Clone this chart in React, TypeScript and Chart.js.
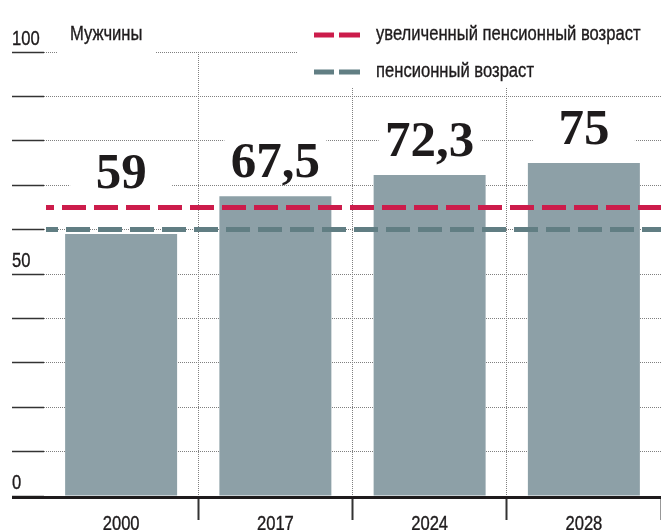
import React, { useEffect, useRef } from 'react';
import { Chart, registerables } from 'chart.js';

Chart.register(...registerables);

const categories = ['2000', '2017', '2024', '2028'];
const menValues = [59, 67.5, 72.3, 75];
const pensionAge = 60;
const raisedPensionAge = 65;
const yLabelValues = [0, 50, 100];
const chartTitle = 'Мужчины';
const legendNames = ['увеличенный пенсионный возраст', 'пенсионный возраст'];

const SANS = '"Liberation Sans", Arial, sans-serif';
const SX = 0.83; // horizontal condensing to imitate a narrow face
const SERIF = '"Liberation Serif", "DejaVu Serif", serif';
const RED = '#cc1c4b';
const GREY_DASH = '#617e83';
const BAR = '#8da0a7';
const INK = '#1e1b1c';
const GRID = '#808080';
const TICK = '#333333';

const fmt = (v: number) => String(v).replace('.', ',');

function condText(ctx: CanvasRenderingContext2D, text: string, x: number, y: number, align: 'left' | 'center', size = 20) {
  ctx.save();
  ctx.font = `${size}px ${SANS}`;
  ctx.textAlign = 'left';
  ctx.textBaseline = 'alphabetic';
  ctx.fillStyle = INK;
  ctx.strokeStyle = INK;
  ctx.lineWidth = 0.35;
  const w = ctx.measureText(text).width * SX;
  const x0 = align === 'center' ? x - w / 2 : x;
  ctx.translate(x0, y);
  ctx.scale(SX, 1);
  ctx.fillText(text, 0, 0);
  ctx.strokeText(text, 0, 0);
  ctx.restore();
}

const decor = {
  id: 'decor',
  beforeDatasetsDraw(chart: any) {
    const { ctx, chartArea, scales } = chart;
    const x = scales.x;
    const y = scales.y;
    ctx.save();
    ctx.fillStyle = '#ffffff';
    // legend background
    ctx.fillRect(297, 0, chart.width - 297, chartArea.top + 35);
    // title background
    ctx.fillRect(58, chartArea.top - 30, 98, 34);
    // value label backgrounds
    menValues.forEach((v, i) => {
      const cx = x.getPixelForValue(i);
      const base = y.getPixelForValue(Math.max(v, raisedPensionAge)) - 19;
      ctx.fillRect(cx - 51, base - 40, 102, 45);
    });
    ctx.restore();
    // title
    condText(ctx, chartTitle, 70, chartArea.top - 12, 'left');
    // legend
    const rows = [
      { name: legendNames[0], color: RED, cy: 35 },
      { name: legendNames[1], color: GREY_DASH, cy: 72 },
    ];
    rows.forEach((r) => {
      ctx.save();
      ctx.fillStyle = r.color;
      ctx.fillRect(314, r.cy - 2.5, 20, 5);
      ctx.fillRect(339, r.cy - 2.5, 21, 5);
      ctx.restore();
      condText(ctx, r.name, 376, r.cy + 5, 'left');
    });
  },
  afterDatasetsDraw(chart: any) {
    const { ctx, chartArea, scales } = chart;
    const y = scales.y;
    ctx.save();
    const lines = [
      { v: raisedPensionAge, color: RED, offset: 16 },
      { v: pensionAge, color: GREY_DASH, offset: 12 },
    ];
    lines.forEach((l) => {
      const py = y.getPixelForValue(l.v);
      ctx.strokeStyle = l.color;
      ctx.lineWidth = 5;
      ctx.setLineDash([24, 8]);
      ctx.lineDashOffset = l.offset;
      ctx.beginPath();
      ctx.moveTo(chartArea.left + 2, py);
      ctx.lineTo(chartArea.right, py);
      ctx.stroke();
    });
    ctx.setLineDash([]);
    // baseline axis
    const py0 = y.getPixelForValue(0);
    ctx.fillStyle = INK;
    ctx.fillRect(12, py0, chartArea.right - 12, 3);
    ctx.restore();
  },
  afterDraw(chart: any) {
    const { ctx, scales } = chart;
    const x = scales.x;
    const y = scales.y;
    ctx.save();
    ctx.fillStyle = INK;
    ctx.textAlign = 'center';
    ctx.textBaseline = 'alphabetic';
    ctx.font = `bold 51px ${SERIF}`;
    menValues.forEach((v, i) => {
      const cx = x.getPixelForValue(i);
      const base = y.getPixelForValue(Math.max(v, raisedPensionAge)) - 19;
      ctx.fillText(fmt(v), cx, base);
    });
    ctx.restore();
    yLabelValues.forEach((v) => {
      condText(ctx, String(v), 12, y.getPixelForValue(v) - 7, 'left');
    });
    const yAxisBottom = y.getPixelForValue(0);
    categories.forEach((c, i) => {
      condText(ctx, c, x.getPixelForValue(i), yAxisBottom + 34, 'center');
    });
  },
};

export default function App() {
  const ref = useRef<HTMLCanvasElement>(null);
  useEffect(() => {
    if (!ref.current) return;
    const hideEdge = (c: any, col: string) =>
      c.index === 0 || c.index === categories.length ? 'rgba(0,0,0,0)' : col;
    const chart = new Chart(ref.current, {
      type: 'bar',
      data: {
        labels: categories,
        datasets: [
          {
            data: menValues,
            backgroundColor: BAR,
            barPercentage: 0.726,
            categoryPercentage: 1,
          },
        ],
      },
      options: {
        animation: false,
        responsive: false,
        devicePixelRatio: 1,
        layout: { padding: { top: 52, left: 12, right: 0, bottom: 10 } },
        plugins: { legend: { display: false }, tooltip: { enabled: false } },
        scales: {
          x: {
            offset: true,
            grid: {
              offset: true,
              color: (c: any) => hideEdge(c, GRID),
              lineWidth: 1,
              tickLength: 24,
              tickColor: (c: any) => hideEdge(c, TICK),
              tickWidth: 2,
              tickBorderDash: [],
            },
            border: { display: false, dash: [1, 1] },
            ticks: { display: false },
          },
          y: {
            min: 0,
            max: 100,
            ticks: { display: false, stepSize: 10 },
            grid: {
              color: GRID,
              lineWidth: 1,
              tickLength: 32,
              tickColor: TICK,
              tickWidth: 1.5,
              tickBorderDash: [],
            },
            border: { display: false, dash: [1, 1] },
          },
        },
      } as any,
      plugins: [decor],
    });
    return () => chart.destroy();
  }, []);
  return (
    <div
      style={{
        position: 'fixed',
        left: 0,
        top: 0,
        width: 661,
        height: 530,
        overflow: 'hidden',
        background: '#fff',
      }}
    >
      <canvas ref={ref} width={661} height={530} style={{ display: 'block', width: 661, height: 530 }} />
    </div>
  );
}
